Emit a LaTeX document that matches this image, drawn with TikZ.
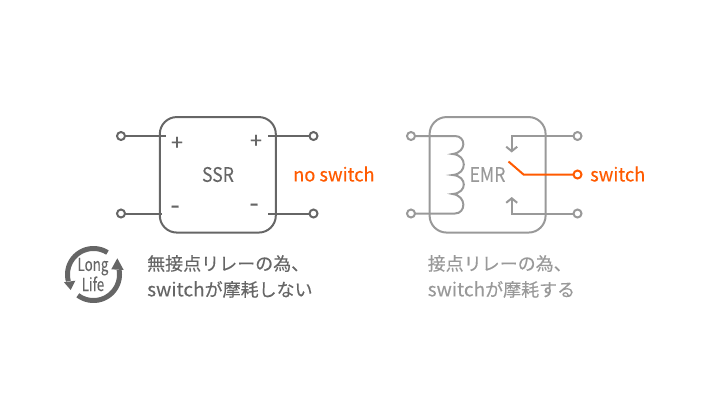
\documentclass[tikz,border=0pt]{standalone}
\usepackage{fontspec}
\setmainfont{Noto Sans CJK JP}[FakeBold=0.25]
\newfontfamily\narrowf{Noto Sans CJK JP}[FakeStretch=0.88,FakeBold=0.1]
\newfontfamily\iconf{Noto Sans CJK JP}[FakeStretch=0.74,FakeBold=0.1]
\newfontfamily\orangef{Noto Sans CJK JP}[FakeStretch=0.96,FakeBold=0.3]
\usetikzlibrary{arrows.meta}
\definecolor{dk}{HTML}{666666}
\definecolor{lt}{HTML}{999999}
\definecolor{og}{HTML}{FF5A00}
\tikzset{
 x=1pt,y=-1pt,
 term/.style={circle,draw,fill=white,line width=2pt,minimum size=8pt,inner sep=0pt,outer sep=0pt},
 relbox/.style={draw,rounded corners=17pt,line width=2pt,minimum width=116pt,minimum height=115.5pt,inner sep=0pt},
 wire/.style={line width=2pt},
 lab/.style={inner sep=0pt,font=\narrowf\fontsize{20}{20}\selectfont},
 olab/.style={inner sep=0pt,anchor=west,text=og,font=\orangef\fontsize{19}{19}\selectfont},
 captxt/.style={inner sep=0pt,align=left,anchor=west,font=\fontsize{18}{26}\selectfont},
 sign/.style={inner sep=0pt,font=\fontsize{21}{21}\selectfont,text=dk},
 minus/.style={inner sep=0pt,font=\fontsize{27}{27}\selectfont,text=dk},
 opn/.style={wire,-{Straight Barb[length=4.5pt,width=11pt,line width=2pt]}},
 ring/.style={line width=5pt,dk,domain=0:1,samples=40,smooth},
}
\begin{document}
\begin{tikzpicture}
\useasboundingbox (0,0) rectangle (720,408);
% SSR
\node[relbox,draw=dk] (ssr) at (217.8,174.8) {};
\node[lab,text=dk] (ssrl) at (218,174.5) {SSR};
\node[term,draw=dk] (t1) at (121,136) {};
\node[term,draw=dk] (t2) at (121,213.5) {};
\node[term,draw=dk] (t3) at (313.5,136) {};
\node[term,draw=dk] (t4) at (313.5,213.5) {};
\coordinate (a1) at (166,136);
\coordinate (a2) at (162,213.5);
\coordinate (a3) at (268,136);
\coordinate (a4) at (268,213.5);
\draw[wire,dk] (t1) -- (a1);
\draw[wire,dk] (t2) -- (a2);
\draw[wire,dk] (t3) -- (a3);
\draw[wire,dk] (t4) -- (a4);
\node[sign] (p1) at (177,143.5) {+};
\node[sign] (p2) at (256,141.5) {+};
\node[minus] (m1) at (175,210) {-};
\node[minus] (m2) at (254,208) {-};
\node[olab] (ns) at (293,174) {no switch};
% EMR
\node[relbox,draw=lt] (emr) at (487.6,174.8) {};
\node[lab,text=lt] (emrl) at (487.5,174.5) {EMR};
\node[term,draw=lt] (e1) at (411,136) {};
\node[term,draw=lt] (e2) at (411,213.5) {};
\node[term,draw=lt] (e3) at (577.5,136) {};
\node[term,draw=lt] (e4) at (577.5,213.5) {};
\node[term,draw=og] (e5) at (577.5,174.5) {};
\coordinate (c0) at (455,136);
\coordinate (c1) at (452.7,154);
\coordinate (c2) at (452.7,175);
\coordinate (c3) at (452.7,194);
\coordinate (c4) at (455,213.5);
\draw[wire,lt] (e1) -- (c0)
  .. controls (466,136) and (467,152) .. (c1)
  .. controls (467.5,155) and (467.5,174) .. (c2)
  .. controls (467.5,176) and (467.5,193) .. (c3)
  .. controls (467,196) and (466,213.5) .. (c4) -- (e2);
\coordinate (u1) at (511.7,136);
\coordinate (u2) at (511.7,152.5);
\coordinate (d1) at (511.7,213.5);
\coordinate (d2) at (511.7,197);
\draw[opn,lt] (e3) -- (u1) -- (u2);
\draw[opn,lt] (e4) -- (d1) -- (d2);
\coordinate (s1) at (523.5,174.5);
\coordinate (s2) at (508.5,161.5);
\draw[wire,og] (e5) -- (s1) -- (s2);
\node[olab] (sw) at (590,174) {switch};
% captions
\node[captxt,text=dk] (capa) at (147,276.5) {無接点リレーの為、\\{\fontsize{19}{26}\selectfont switch}が摩耗しない};
\node[captxt,text=lt] (capb) at (427.5,276.5) {接点リレーの為、\\{\fontsize{19}{26}\selectfont switch}が摩耗する};
% life icon
\node[inner sep=0pt,align=center,text=dk,font=\iconf\fontsize{18}{19}\selectfont] (ll) at (93,274.5) {Long\\Life};
\draw[ring] plot ({93.5+26*cos(-57.5-137.5*\x)},{274.5+26*sin(-57.5-137.5*\x)});
\draw[ring] plot ({93.5+26*cos(127-137.5*\x)},{274.5+26*sin(127-137.5*\x)});
\fill[dk] (64,282.3) -- (75.3,280.7) -- (70.7,290) -- cycle;
\fill[dk] (111.3,269.3) -- (123.7,270) -- (117.3,258.3) -- cycle;
\end{tikzpicture}
\end{document}
